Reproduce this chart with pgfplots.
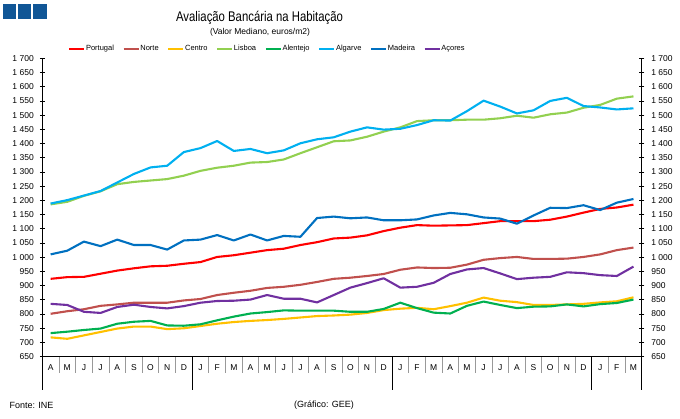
\documentclass[border=0pt]{standalone}
\usepackage{pgfplots}
\pgfplotsset{compat=1.18}
\usepackage{pgfplotstable}
\usepackage{fontspec}
\setmainfont{Liberation Sans}
\newfontfamily\titlefont{Liberation Sans}[FakeStretch=0.81]
\definecolor{cPT}{RGB}{255,0,0}
\definecolor{cNO}{RGB}{192,80,77}
\definecolor{cCE}{RGB}{255,192,0}
\definecolor{cLI}{RGB}{146,208,80}
\definecolor{cAL}{RGB}{0,176,80}
\definecolor{cAG}{RGB}{0,176,240}
\definecolor{cMA}{RGB}{0,112,192}
\definecolor{cAC}{RGB}{112,48,160}
\definecolor{logo}{RGB}{16,86,150}
\pgfplotstableread{
i P N C L Al Ag M Ac
0 924 801 718 1186 733 1189 1010 836
1 930 810 713 1195 738 1201 1023 832
2 931 817 725 1216 744 1217 1055 808
3 942 829 737 1232 749 1233 1039 804
4 953 834 749 1257 766 1263 1062 825
5 961 840 756 1265 773 1293 1043 833
6 968 840 756 1270 776 1316 1043 825
7 970 840 747 1275 760 1322 1027 820
8 977 848 750 1287 759 1370 1059 828
9 983 853 758 1304 764 1384 1062 840
10 1001 867 766 1315 778 1409 1078 846
11 1007 875 772 1322 791 1374 1059 847
12 1016 882 776 1333 802 1381 1080 851
13 1025 892 779 1335 807 1366 1059 867
14 1030 896 783 1344 813 1376 1075 854
15 1043 903 788 1366 812 1401 1072 854
16 1053 913 793 1387 812 1415 1138 841
17 1066 924 795 1408 812 1422 1143 867
18 1069 928 798 1411 808 1442 1137 893
19 1077 934 804 1424 808 1457 1140 909
20 1092 941 814 1442 818 1449 1130 926
21 1104 956 819 1457 840 1452 1130 893
22 1113 964 822 1479 821 1465 1133 896
23 1111 962 817 1482 805 1482 1147 910
24 1112 963 828 1482 802 1481 1156 941
25 1113 974 840 1484 829 1514 1151 957
26 1120 991 858 1484 844 1551 1140 962
27 1127 997 847 1489 832 1530 1136 943
28 1127 1001 842 1498 821 1506 1118 923
29 1127 994 832 1491 826 1517 1147 928
30 1132 994 832 1503 827 1550 1174 931
31 1143 995 834 1509 834 1561 1173 947
32 1157 1001 836 1526 827 1532 1183 944
33 1170 1010 841 1536 835 1527 1166 937
34 1175 1025 845 1558 839 1520 1192 934
35 1185 1034 859 1566 851 1524 1205 967
}\data
\begin{document}
\begin{tikzpicture}[x=1pt,y=1pt]
\useasboundingbox (0,0) rectangle (680,418);
\fill[logo] (3,399) rectangle (16,414);
\fill[logo] (18,399) rectangle (31,414);
\fill[logo] (33,399) rectangle (47,414);
\node[font=\titlefont\fontsize{14}{16}\selectfont] at (259.5,400.5) {Avaliação Bancária na Habitação};
\node[font=\fontsize{8.5}{10}\selectfont] at (260,386) {(Valor Mediano, euros/m2)};
\node[font=\fontsize{9}{10}\selectfont, anchor=west] at (6,13) {Fonte: INE};
\node[font=\fontsize{9}{10}\selectfont] at (324,13) {(Gráfico: GEE)};
\begin{axis}[
  at={(42.3pt,61.3pt)}, anchor=south west,
  scale only axis, width=599.5pt, height=298.4pt,
  xmin=-0.5, xmax=35.5, ymin=650, ymax=1700,
  axis x line*=bottom, axis y line*=left,
  axis line style={black, line width=0.8pt},
  tick align=outside,
  major tick length=5pt,
  minor tick length=16pt,
  xtick={0,...,35},
  xticklabels={A,M,J,J,A,S,O,N,D,J,F,M,A,M,J,J,A,S,O,N,D,J,F,M,A,M,J,J,A,S,O,N,D,J,F,M},
  major x tick style={draw=none},
  minor xtick={-0.5,0.5,...,35.5},
  minor x tick style={gray!80, line width=0.8pt},
  extra x ticks={-0.5,8.5,20.5,32.5,35.5},
  extra x tick labels={},
  extra x tick style={major tick length=33pt, major x tick style={draw=black, line width=0.8pt}},
  ytick={650,700,...,1700},
  ytick pos=left,
  major y tick style={black, line width=0.8pt, xshift=2.5pt},
  xticklabel style={yshift=0.5pt},
  tick label style={font=\fontsize{8.5}{10}\selectfont},
  /pgf/number format/assume math mode=true,
  /pgf/number format/1000 sep={\ },
  legend columns=8,
  legend style={at={(axis description cs:0.0429,1.032)}, anchor=west, draw=none, fill=none,
    inner xsep=0pt, inner ysep=0pt, font=\fontsize{7.5}{9}\selectfont,
    nodes={inner xsep=0.6pt},
    /tikz/every even column/.append style={column sep=8pt}},
  legend cell align=left,
  legend image code/.code={\draw[#1, line width=2.2pt] (0pt,0pt) -- (15pt,0pt);},
  every axis plot/.append style={line width=2.1pt, line join=round},
]
\addplot[cPT] table[x=i,y=P]{\data};
\addplot[cNO] table[x=i,y=N]{\data};
\addplot[cCE] table[x=i,y=C]{\data};
\addplot[cLI] table[x=i,y=L]{\data};
\addplot[cAL] table[x=i,y=Al]{\data};
\addplot[cAG] table[x=i,y=Ag]{\data};
\addplot[cMA] table[x=i,y=M]{\data};
\addplot[cAC] table[x=i,y=Ac]{\data};
\legend{Portugal,Norte,Centro,Lisboa,Alentejo,Algarve,Madeira,Açores}
\node[font=\fontsize{8.5}{10}\selectfont] at (axis cs:4,650) [yshift=-27.3pt] {2018};
\node[font=\fontsize{8.5}{10}\selectfont] at (axis cs:14.5,650) [yshift=-27.3pt] {2019};
\node[font=\fontsize{8.5}{10}\selectfont] at (axis cs:26.5,650) [yshift=-27.3pt] {2020};
\node[font=\fontsize{8.5}{10}\selectfont] at (axis cs:34,650) [yshift=-27.3pt] {2021};
\end{axis}
\begin{axis}[
  at={(42.3pt,61.3pt)}, anchor=south west,
  scale only axis, width=599.5pt, height=298.4pt,
  xmin=-0.5, xmax=35.5, ymin=650, ymax=1700,
  axis x line=none, axis y line*=right,
  axis line style={black, line width=0.8pt},
  tick align=outside, major tick length=5pt,
  ytick={650,700,...,1700},
  ytick pos=right,
  major y tick style={black, line width=0.8pt, xshift=-2.5pt},
  yticklabel style={xshift=1pt},
  tick label style={font=\fontsize{8.5}{10}\selectfont},
  /pgf/number format/assume math mode=true,
  /pgf/number format/1000 sep={\ },
]
\end{axis}
\end{tikzpicture}
\end{document}
